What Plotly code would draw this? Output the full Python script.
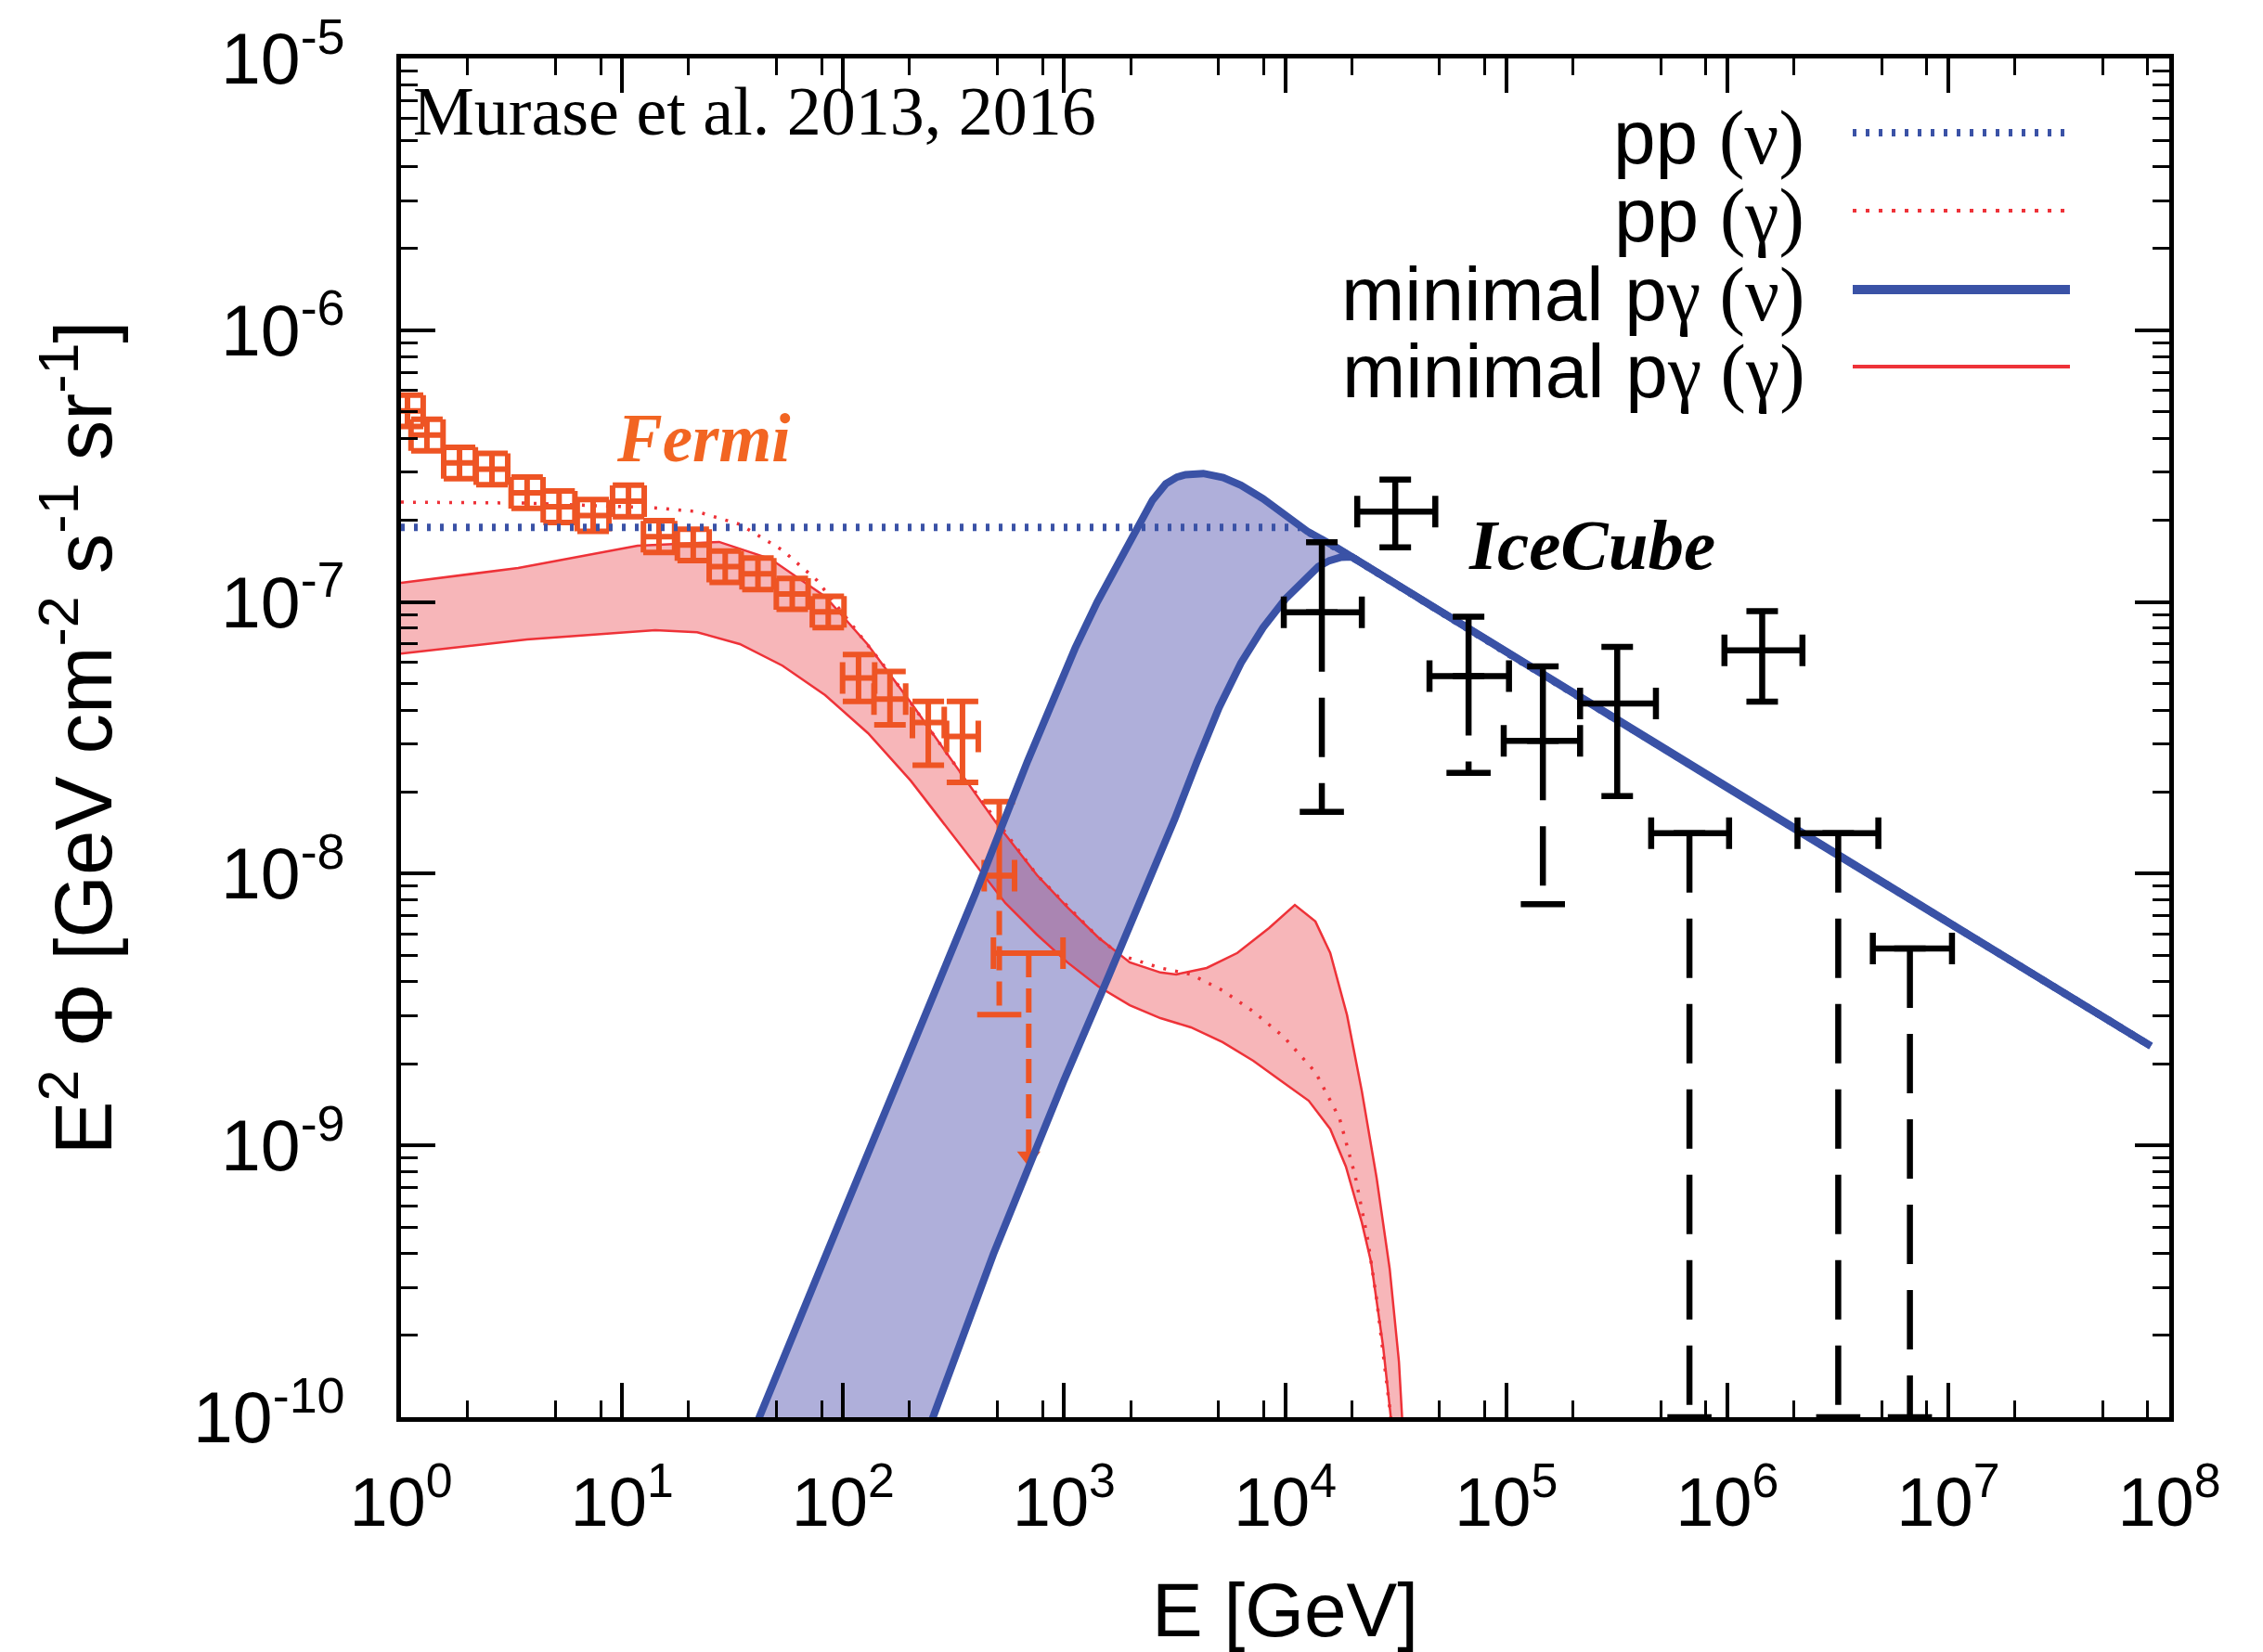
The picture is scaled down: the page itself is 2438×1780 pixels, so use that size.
import plotly.graph_objects as go

# ---------------- data (E in GeV, flux E^2 Phi in GeV cm^-2 s^-1 sr^-1) ----------------
# minimal p-gamma neutrino band: rising part of upper and lower edges, then shared power-law tail
nu_up_E = [31.6, 42.4, 100, 200, 398, 684, 891, 1122, 1413, 1778, 2188, 2512, 2884, 3236, 3548, 4266,
           5248, 6310, 7943, 1.0e4, 1.259e4, 1.71e4]
nu_up_F = [5.75e-11, 1.02e-10, 5.62e-10, 2.19e-9, 8.51e-9, 2.60e-8, 4.37e-8, 6.76e-8, 1.0e-7, 1.41e-7,
           1.95e-7, 2.37e-7, 2.72e-7, 2.88e-7, 2.94e-7, 2.97e-7, 2.87e-7, 2.69e-7, 2.40e-7, 2.11e-7,
           1.82e-7, 1.585e-7]
nu_lo_E = [199.5, 257.6, 478.6, 1000, 1585, 2512, 3162, 3981, 5012, 6310, 7943, 1.0e4, 12589, 14125,
           15849, 17783]
nu_lo_F = [6.03e-11, 1.02e-10, 3.98e-10, 1.74e-9, 4.17e-9, 1.0e-8, 1.585e-8, 2.57e-8, 4.07e-8, 5.96e-8,
           8.04e-8, 1.023e-7, 1.245e-7, 1.349e-7, 1.419e-7, 1.459e-7]
nu_tail_E = [2.0e4, 1e5, 1e6, 1e7, 8.26e7]
nu_tail_F = [1.466e-7, 6.53e-8, 2.07e-8, 6.61e-9, 2.32e-9]

# pp neutrino (dotted blue), joins the tail above ~2e4 GeV
pp_nu_E = [1, 1.17e4, 1.55e4]
pp_nu_F = [1.88e-7, 1.88e-7, 1.65e-7]

# minimal p-gamma gamma band (red)
ga_up_E = [1, 3.39, 11.75, 27.5, 46.8, 83.2, 128.8, 204, 316, 490, 753, 1038, 1426, 1982, 2729, 3214,
           4416, 6081, 8453, 11066, 13709, 15996, 19055, 22233, 25942, 29717, 32734, 33651, 35481]
ga_up_F = [1.175e-7, 1.334e-7, 1.61e-7, 1.663e-7, 1.442e-7, 1.045e-7, 7.0e-8, 4.23e-8, 2.56e-8, 1.55e-8,
           9.89e-9, 7.5e-9, 5.83e-9, 4.72e-9, 4.33e-9, 4.26e-9, 4.50e-9, 5.11e-9, 6.31e-9, 7.67e-9,
           6.67e-9, 5.11e-9, 3.02e-9, 1.585e-9, 7.59e-10, 3.52e-10, 1.60e-10, 1.02e-10, 5.0e-11]
ga_lo_E = [1, 3.715, 14.13, 21.88, 34.12, 53.2, 83.0, 129.7, 202.3, 316.2, 429.5, 542, 753, 1038, 1426,
           1982, 2729, 3750, 5212, 7178, 9863, 12794, 15996, 18836, 22233, 24491, 27733, 29992, 31623]
ga_lo_F = [6.46e-8, 7.28e-8, 7.87e-8, 7.74e-8, 7.0e-8, 5.83e-8, 4.54e-8, 3.29e-8, 2.20e-8, 1.38e-8,
           1.0e-8, 7.8e-9, 5.97e-9, 4.71e-9, 3.85e-9, 3.28e-9, 2.94e-9, 2.72e-9, 2.40e-9, 2.05e-9,
           1.70e-9, 1.46e-9, 1.15e-9, 8.36e-10, 5.21e-10, 3.72e-10, 1.83e-10, 1.02e-10, 6.3e-11]

# pp gamma (dotted red)
pp_ga_E = [1, 3.724, 14.09, 21.88, 34.12, 53.2, 75.9, 100, 158.5, 316.2, 753, 1426, 1799, 2729, 3750,
           5212, 7178, 9863, 13709, 17620, 20749, 23550, 25942, 28576, 29992, 31623]
pp_ga_F = [2.33e-7, 2.31e-7, 2.22e-7, 2.15e-7, 1.93e-7, 1.55e-7, 1.205e-7, 9.02e-8, 5.62e-8, 2.56e-8,
           9.89e-9, 5.83e-9, 5.01e-9, 4.50e-9, 4.26e-9, 3.72e-9, 3.11e-9, 2.51e-9, 1.86e-9, 1.26e-9,
           7.73e-10, 4.60e-10, 2.72e-10, 1.41e-10, 1.02e-10, 6.3e-11]

# Fermi data points (last one is an upper limit)
fermi_E = [1.07, 1.31, 1.84, 2.58, 3.72, 5.19, 7.40, 10.7, 14.7, 21.0, 29.3, 41.2, 58.9, 85.7,
           117.5, 163, 243, 347, 509, 692]
fermi_Elo = [0.906, 1.11, 1.56, 2.19, 3.15, 4.40, 6.27, 9.06, 12.5, 17.8, 24.8, 34.9, 49.9, 72.6,
             99.5, 138, 206, 294, 435, 479]
fermi_Ehi = [1.26, 1.55, 2.17, 3.04, 4.39, 6.12, 8.73, 12.6, 17.3, 24.8, 34.6, 48.6, 69.5, 101,
             139, 192, 287, 409, 597, 989]
fermi_F = [5.05e-7, 4.11e-7, 3.25e-7, 3.08e-7, 2.52e-7, 2.24e-7, 2.08e-7, 2.35e-7, 1.74e-7, 1.62e-7,
           1.35e-7, 1.27e-7, 1.07e-7, 9.2e-8, 5.25e-8, 4.39e-8, 3.6e-8, 3.2e-8, 9.84e-9, 5.1e-9]
fermi_Flo = [4.42e-7, 3.60e-7, 2.84e-7, 2.70e-7, 2.21e-7, 1.96e-7, 1.82e-7, 2.06e-7, 1.52e-7, 1.42e-7,
             1.18e-7, 1.11e-7, 9.4e-8, 8.05e-8, 4.31e-8, 3.53e-8, 2.51e-8, 2.17e-8, 3.03e-9, 9.1e-10]
fermi_Fhi = [5.77e-7, 4.70e-7, 3.71e-7, 3.52e-7, 2.88e-7, 2.56e-7, 2.38e-7, 2.69e-7, 1.99e-7, 1.85e-7,
             1.54e-7, 1.45e-7, 1.22e-7, 1.05e-7, 6.40e-8, 5.55e-8, 4.31e-8, 4.31e-8, 1.84e-8, 5.1e-9]
fermi_dashed_lower = [False] * 18 + [True, True]
fermi_upper_limit = [False] * 19 + [True]

# IceCube data points
ic_E = [1.466e4, 3.15e4, 6.76e4, 1.466e5, 3.18e5, 6.75e5, 1.44e6, 3.18e6, 6.71e6]
ic_Elo = [9863, 2.12e4, 4.50e4, 9.75e4, 2.16e5, 4.53e5, 9.72e5, 2.08e6, 4.56e6]
ic_Ehi = [22233, 4.78e4, 1.03e5, 2.16e5, 4.76e5, 1.02e6, 2.19e6, 4.83e6, 1.04e7]
ic_F = [9.16e-8, 2.15e-7, 5.33e-8, 3.08e-8, 4.23e-8, 1.41e-8, 6.64e-8, 1.41e-8, 5.31e-9]
ic_Flo = [1.69e-8, 1.59e-7, 2.35e-8, 7.73e-9, 1.93e-8, 1e-10, 4.30e-8, 1e-10, 1e-10]
ic_Fhi = [1.66e-7, 2.82e-7, 8.83e-8, 5.79e-8, 6.84e-8, 1.41e-8, 9.25e-8, 1.41e-8, 5.31e-9]
ic_dashed_lower = [True, False, True, True, False, True, False, True, True]

x_tick_vals = [1, 10, 100, 1e3, 1e4, 1e5, 1e6, 1e7, 1e8]
x_tick_text = ["10<sup>%d</sup>" % i for i in range(9)]
y_tick_vals = [1e-10, 1e-9, 1e-8, 1e-7, 1e-6, 1e-5]
y_tick_text = ["10<sup>-%d</sup>" % i for i in range(10, 4, -1)]

# legend labels: (sans part, serif part)
legend_labels = [("pp ", "(\u03bd)"), ("pp ", "(\u03b3)"),
                 ("minimal p", "\u03b3 (\u03bd)"), ("minimal p", "\u03b3 (\u03b3)")]

# ---------------- styles ----------------
BLUE = "#3a52a6"
RED = "#ee3238"
ORANGE = "#ee5424"
FONT = "Liberation Sans, Arial, Helvetica, sans-serif"
SERIF = "Liberation Serif, Times New Roman, serif"

fig = go.Figure()

# red gamma band fill
fig.add_trace(go.Scatter(x=ga_up_E + ga_lo_E[::-1], y=ga_up_F + ga_lo_F[::-1], mode="lines",
                         fill="toself", fillcolor="rgba(240,110,115,0.5)", line=dict(width=0),
                         hoverinfo="skip"))
# blue neutrino band fill
up_full_E = nu_up_E + nu_tail_E
up_full_F = nu_up_F + nu_tail_F
lo_full_E = nu_lo_E + nu_tail_E
lo_full_F = nu_lo_F + nu_tail_F
fig.add_trace(go.Scatter(x=up_full_E + lo_full_E[::-1], y=up_full_F + lo_full_F[::-1], mode="lines",
                         fill="toself", fillcolor="rgba(70,70,170,0.43)", line=dict(width=0),
                         hoverinfo="skip"))

# red lines
fig.add_trace(go.Scatter(x=ga_up_E, y=ga_up_F, mode="lines", line=dict(color=RED, width=2.5)))
fig.add_trace(go.Scatter(x=ga_lo_E, y=ga_lo_F, mode="lines", line=dict(color=RED, width=2.5)))
fig.add_trace(go.Scatter(x=pp_ga_E, y=pp_ga_F, mode="lines",
                         line=dict(color=RED, width=3.5, dash="3px,10px")))

# Fermi points with solid error bars
solid_idx = [i for i in range(len(fermi_E)) if not fermi_dashed_lower[i]]
dash_idx = [i for i in range(len(fermi_E)) if fermi_dashed_lower[i]]
fig.add_trace(go.Scatter(
    x=[fermi_E[i] for i in solid_idx], y=[fermi_F[i] for i in solid_idx], mode="markers",
    marker=dict(size=1, color=ORANGE),
    error_x=dict(type="data", symmetric=False,
                 array=[fermi_Ehi[i] - fermi_E[i] for i in solid_idx],
                 arrayminus=[fermi_E[i] - fermi_Elo[i] for i in solid_idx],
                 color=ORANGE, thickness=6, width=17),
    error_y=dict(type="data", symmetric=False,
                 array=[fermi_Fhi[i] - fermi_F[i] for i in solid_idx],
                 arrayminus=[fermi_F[i] - fermi_Flo[i] for i in solid_idx],
                 color=ORANGE, thickness=6, width=17)))
# Fermi points with dashed lower parts (upper part solid)
fig.add_trace(go.Scatter(
    x=[fermi_E[i] for i in dash_idx], y=[fermi_F[i] for i in dash_idx], mode="markers",
    marker=dict(size=1, color=ORANGE),
    error_x=dict(type="data", symmetric=False,
                 array=[fermi_Ehi[i] - fermi_E[i] for i in dash_idx],
                 arrayminus=[fermi_E[i] - fermi_Elo[i] for i in dash_idx],
                 color=ORANGE, thickness=6, width=17),
    error_y=dict(type="data", symmetric=False,
                 array=[fermi_Fhi[i] - fermi_F[i] for i in dash_idx],
                 arrayminus=[0 for i in dash_idx],
                 color=ORANGE, thickness=6, width=17)))
for i in dash_idx:
    fig.add_trace(go.Scatter(x=[fermi_E[i], fermi_E[i]], y=[fermi_F[i], fermi_Flo[i]], mode="lines",
                             line=dict(color=ORANGE, width=6, dash="26px,12px")))
    if fermi_upper_limit[i]:
        fig.add_trace(go.Scatter(x=[fermi_E[i]], y=[fermi_Flo[i]], mode="markers",
                                 marker=dict(symbol="triangle-down", size=22, color=ORANGE)))
    else:
        fig.add_trace(go.Scatter(x=[fermi_E[i]], y=[fermi_Flo[i]], mode="markers",
                                 marker=dict(symbol="line-ew", size=34,
                                             line=dict(width=6, color=ORANGE))))

# blue dotted pp neutrino
fig.add_trace(go.Scatter(x=pp_nu_E + nu_tail_E, y=pp_nu_F + nu_tail_F, mode="lines",
                         line=dict(color=BLUE, width=8, dash="4px,10px")))
# blue band edges
fig.add_trace(go.Scatter(x=up_full_E, y=up_full_F, mode="lines", line=dict(color=BLUE, width=8)))
fig.add_trace(go.Scatter(x=lo_full_E, y=lo_full_F, mode="lines", line=dict(color=BLUE, width=8)))

# IceCube
n_ic = len(ic_E)
fig.add_trace(go.Scatter(
    x=ic_E, y=ic_F, mode="markers", marker=dict(size=1, color="black"),
    error_x=dict(type="data", symmetric=False,
                 array=[ic_Ehi[i] - ic_E[i] for i in range(n_ic)],
                 arrayminus=[ic_E[i] - ic_Elo[i] for i in range(n_ic)],
                 color="black", thickness=6.5, width=17),
    error_y=dict(type="data", symmetric=False,
                 array=[ic_Fhi[i] - ic_F[i] for i in range(n_ic)],
                 arrayminus=[0 if ic_dashed_lower[i] else ic_F[i] - ic_Flo[i] for i in range(n_ic)],
                 color="black", thickness=6.5, width=17)))
for i in range(n_ic):
    if ic_dashed_lower[i]:
        fig.add_trace(go.Scatter(x=[ic_E[i], ic_E[i]], y=[ic_F[i], ic_Flo[i]], mode="lines",
                                 line=dict(color="black", width=6.5, dash="64px,28px")))
        fig.add_trace(go.Scatter(x=[ic_E[i]], y=[ic_Flo[i]], mode="markers",
                                 marker=dict(symbol="line-ew", size=34,
                                             line=dict(width=6.5, color="black"))))

# ---------------- axes ----------------
x_minor = [m * 10 ** d for d in range(0, 8) for m in (2, 5, 8)]
y_minor = [m * 10.0 ** d for d in range(-10, -5) for m in range(2, 10)]

axis_common = dict(type="log", ticks="inside", ticklen=37, tickwidth=4, tickcolor="black",
                   showline=True, linewidth=5, linecolor="black", mirror="allticks",
                   showgrid=False, zeroline=False)

fig.update_xaxes(range=[0, 8], tickmode="array", tickvals=x_tick_vals, ticktext=x_tick_text,
                 tickfont=dict(family=FONT, size=74, color="black"),
                 minor=dict(tickmode="array", tickvals=x_minor, ticks="inside", ticklen=18,
                            tickwidth=3, tickcolor="black", showgrid=False),
                 title=dict(text="E [GeV]", font=dict(family=FONT, size=82, color="black"), standoff=50),
                 ticklabelstandoff=23, **axis_common)
fig.update_yaxes(range=[-10, -5], tickmode="array", tickvals=y_tick_vals, ticktext=y_tick_text,
                 tickfont=dict(family=FONT, size=77, color="black"),
                 minor=dict(tickmode="array", tickvals=y_minor, ticks="inside", ticklen=18,
                            tickwidth=3, tickcolor="black", showgrid=False),
                 title=dict(text="E<sup>2</sup> \u03a6 [GeV cm<sup>-2</sup> s<sup>-1</sup> sr<sup>-1</sup>]",
                            font=dict(family=FONT, size=87, color="black"), standoff=60),
                 ticklabelstandoff=40, **axis_common)

# ---------------- text labels & legend ----------------
PW, PH, L0, T0 = 1905.0, 1464.0, 432.0, 63.0


def px(xp):
    return (xp - L0) / PW


def py(yp):
    return (T0 + PH - yp) / PH


annotations = [
    dict(text="Murase et al. 2013, 2016", x=px(443), y=py(120), xanchor="left", yanchor="middle",
         font=dict(family=SERIF, size=74, color="black")),
    dict(text="<b><i>Fermi</i></b>", x=px(758), y=py(472), xanchor="center", yanchor="middle",
         font=dict(family=SERIF, size=73, color="#f26522")),
    dict(text="<b><i>IceCube</i></b>", x=px(1715), y=py(587), xanchor="center", yanchor="middle",
         font=dict(family=SERIF, size=77, color="black")),
]
legend_rows = [143, 227, 312, 395]
legend_styles = [dict(color=BLUE, width=8, dash="4px,10px"), dict(color=RED, width=4, dash="4px,10px"),
                 dict(color=BLUE, width=10), dict(color=RED, width=4)]
shapes = []
for (sans, serif), yr, st in zip(legend_labels, legend_rows, legend_styles):
    label = sans + '<span style="font-family:Liberation Serif, Times New Roman, serif">' + serif + "</span>"
    annotations.append(dict(text=label, x=px(1946), y=py(yr + 5), xanchor="right", yanchor="middle",
                            font=dict(family=FONT, size=82, color="black")))
    shapes.append(dict(type="line", xref="paper", yref="paper", x0=px(1996), x1=px(2230),
                       y0=py(yr), y1=py(yr), line=st))
for a in annotations:
    a.update(xref="paper", yref="paper", showarrow=False)

fig.update_layout(width=2438, height=1780, margin=dict(l=432, r=101, t=63, b=253, autoexpand=False),
                  plot_bgcolor="white", paper_bgcolor="white", showlegend=False,
                  font=dict(family=FONT, color="black"), annotations=annotations, shapes=shapes)

fig.write_html("out.html", config={"displayModeBar": False},
               post_script="document.body.style.margin='0';")
